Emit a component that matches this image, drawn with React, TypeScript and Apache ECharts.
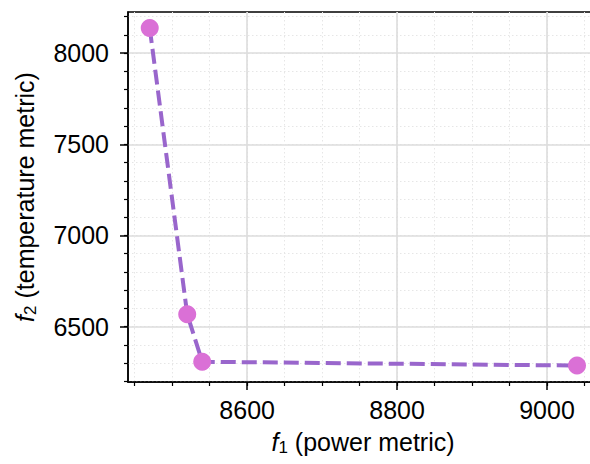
import React, { useEffect, useRef } from "react";
import * as echarts from "echarts";

const f1Values = [8470, 8520, 8540, 9040];
const f2Values = [8137, 6568, 6308, 6287];
const xMajorTicks = [8600, 8800, 9000];
const xMinorTicks = [8450, 8500, 8550, 8600, 8650, 8700, 8750, 8800, 8850, 8900, 8950, 9000, 9050];
const yMajorTicks = [6500, 7000, 7500, 8000];
const yMinorTicks = [6200, 6300, 6400, 6500, 6600, 6700, 6800, 6900, 7000, 7100, 7200, 7300, 7400, 7500, 7600, 7700, 7800, 7900, 8000, 8100, 8200];
const xRange = [8441, 9068];
const yRange = [6197, 8225];

const FONT = "Liberation Sans";
const FS = 25;

export default function App() {
  const ref = useRef<HTMLDivElement>(null);
  useEffect(() => {
    if (!ref.current) return;
    const chart = echarts.init(ref.current, undefined, { renderer: "svg" });
    const nameStyle = {
      fontFamily: FONT,
      fontSize: FS,
      color: "#000",
      rich: {
        i: { fontFamily: FONT, fontSize: FS, fontStyle: "italic", color: "#000" },
        s: { fontFamily: FONT, fontSize: 17, color: "#000", padding: [11, 0, 0, 0] },
      },
    };
    const minorX = {
      type: "value",
      gridIndex: 0,
      position: "bottom",
      min: xRange[0],
      max: xRange[1],
      axisLine: { show: false },
      axisTick: { show: true, customValues: xMinorTicks, length: 4, lineStyle: { color: "#000", width: 1.2 } },
      axisLabel: { show: false, customValues: xMinorTicks },
      splitLine: { show: true, customValues: xMinorTicks, lineStyle: { color: "#e6e6e6", width: 1, type: [1.5, 2.5] } },
    };
    const majorX = {
      type: "value",
      gridIndex: 0,
      position: "bottom",
      min: xRange[0],
      max: xRange[1],
      name: "{i|f}{s|1} (power metric)",
      nameLocation: "middle",
      nameGap: 46,
      nameTextStyle: nameStyle,
      axisLine: { show: true, lineStyle: { color: "#000", width: 1.5 } },
      axisTick: { show: true, customValues: xMajorTicks, length: 8, lineStyle: { color: "#000", width: 1.5 } },
      axisLabel: {
        show: true,
        customValues: xMajorTicks,
        formatter: (v: number) => String(v),
        fontFamily: FONT,
        fontSize: FS,
        color: "#000",
        margin: 15,
      },
      splitLine: { show: true, customValues: xMajorTicks, lineStyle: { color: "#dcdcdc", width: 1.6 } },
    };
    const minorY = {
      type: "value",
      gridIndex: 0,
      position: "left",
      min: yRange[0],
      max: yRange[1],
      axisLine: { show: false },
      axisTick: { show: true, customValues: yMinorTicks, length: 4, lineStyle: { color: "#000", width: 1.2 } },
      axisLabel: { show: false, customValues: yMinorTicks },
      splitLine: { show: true, customValues: yMinorTicks, lineStyle: { color: "#e6e6e6", width: 1, type: [1.5, 2.5] } },
    };
    const majorY = {
      type: "value",
      gridIndex: 0,
      position: "left",
      min: yRange[0],
      max: yRange[1],
      name: "{i|f}{s|2} (temperature metric)",
      nameLocation: "middle",
      nameRotate: 90,
      nameGap: 89,
      nameTextStyle: nameStyle,
      axisLine: { show: true, lineStyle: { color: "#000", width: 1.5 } },
      axisTick: { show: true, customValues: yMajorTicks, length: 8, lineStyle: { color: "#000", width: 1.5 } },
      axisLabel: {
        show: true,
        customValues: yMajorTicks,
        formatter: (v: number) => String(v),
        fontFamily: FONT,
        fontSize: FS,
        color: "#000",
        margin: 19,
      },
      splitLine: { show: true, customValues: yMajorTicks, lineStyle: { color: "#dcdcdc", width: 1.6 } },
    };
    chart.setOption({
      animation: false,
      backgroundColor: "#fff",
      grid: {
        left: 128,
        top: 12,
        width: 470,
        height: 370,
        show: true,
        borderColor: "#000",
        borderWidth: 1.5,
        backgroundColor: "transparent",
        containLabel: false,
      },
      xAxis: [minorX, majorX],
      yAxis: [minorY, majorY],
      series: [
        {
          type: "line",
          xAxisIndex: 1,
          yAxisIndex: 1,
          data: f1Values.map((x, i) => [x, f2Values[i]]),
          lineStyle: { color: "#9966cc", width: 4, type: [15, 6] },
          symbol: "circle",
          symbolSize: 18,
          itemStyle: { color: "#da70d6" },
          z: 5,
        },
      ],
    });
    return () => chart.dispose();
  }, []);
  return (
    <div style={{ position: "fixed", left: 0, top: 0, width: 590, height: 464, overflow: "hidden", background: "#fff" }}>
      <div ref={ref} style={{ width: 600, height: 464 }} />
    </div>
  );
}
